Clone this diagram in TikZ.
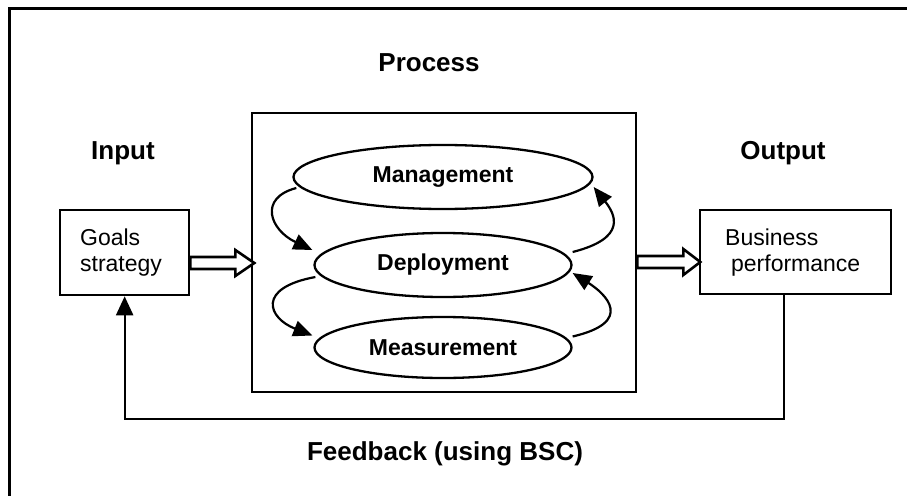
\documentclass[tikz,border=0pt]{standalone}
\usepackage{fontspec}
\setmainfont{Liberation Sans}
\usetikzlibrary{shapes.geometric,arrows.meta}
\begin{document}
\begin{tikzpicture}[x=1pt,y=-1pt,
  heading/.style={font=\fontsize{26}{30}\selectfont\bfseries,inner sep=0pt},
  stage/.style={ellipse,draw,line width=2.3pt,inner sep=0pt,
    font=\fontsize{23}{27}\selectfont\bfseries},
  endbox/.style={draw,line width=2.3pt,rectangle,align=left,anchor=north west,
    font=\fontsize{23}{26}\selectfont,inner ysep=0pt},
  loop/.style={line width=2.2pt,-{Triangle[width=16pt,length=19pt]}},
  hollow/.style={line width=2.6pt,line join=miter,fill=white}
]
\useasboundingbox (0,0) rectangle (907,495);
\fill[white] (0,0) rectangle (907,495);
% outer frame (only left and top edges fall on the page)
\draw[line width=3pt] (9.5,497) -- (9.5,9) -- (909,9);

% headings
\node[heading] (proc) at (429,63) {Process};
\node[heading] (inp)  at (123,153) {Input};
\node[heading] (outp) at (783,153) {Output};
\node[heading] (fb)   at (445,454) {Feedback (using BSC)};

% input and output boxes
\node[endbox,minimum width=129pt,minimum height=85pt,text width=89pt,inner xsep=20pt]
  (goals) at (59,209) {Goals\\strategy};
\node[endbox,minimum width=191pt,minimum height=84pt,text width=141pt,inner xsep=25pt]
  (biz) at (699,209) {Business\\\hspace*{6pt}performance};

% process box with the three stages
\node[draw,line width=2.6pt,minimum width=384pt,minimum height=279pt,inner sep=0pt]
  (procbox) at (444,252.5) {};
\node[stage,minimum width=299pt,minimum height=64pt] (mgmt) at (443,177)   {Management};
\node[stage,minimum width=257pt,minimum height=64pt] (depl) at (443,265)   {Deployment};
\node[stage,minimum width=257pt,minimum height=61pt] (meas) at (443,347.5) {Measurement};

% cycles between the stages
\draw[loop] ([shift={(4,11)}]mgmt.west) .. controls (258,198) and (270,230) .. ([shift={(-1,-15)}]depl.west);
\draw[loop] ([shift={(2,12)}]depl.west) .. controls (256,288) and (268,318) .. ([shift={(-1,-12)}]meas.west);
\draw[loop] ([shift={(0,-13)}]depl.east) .. controls (628,238) and (615,214) .. ([shift={(0,10)}]mgmt.east);
\draw[loop] ([shift={(0,-11)}]meas.east) .. controls (635,322) and (606,294) .. ([shift={(0,8)}]depl.east);

% hollow flow arrows
\coordinate (inarrow) at (goals.east |- 0,263);
\draw[hollow] (inarrow) ++(0,-6) -- ++(45,0) -- ++(0,-7) -- ++(19,13) -- ++(-19,13)
  -- ++(0,-7) -- ++(-45,0) -- cycle;
\coordinate (outarrow) at (procbox.east |- 0,262);
\draw[hollow] (outarrow) ++(0,-6) -- ++(46,0) -- ++(0,-7) -- ++(17,13) -- ++(-17,13)
  -- ++(0,-7) -- ++(-46,0) -- cycle;

% feedback loop
\coordinate (fbturn) at (0,419);
\draw[line width=2.3pt,-{Triangle[width=17pt,length=19pt]}]
  ([xshift=-11.5pt]biz.south) |- (goals.south |- fbturn) -- (goals.south);
\end{tikzpicture}
\end{document}
